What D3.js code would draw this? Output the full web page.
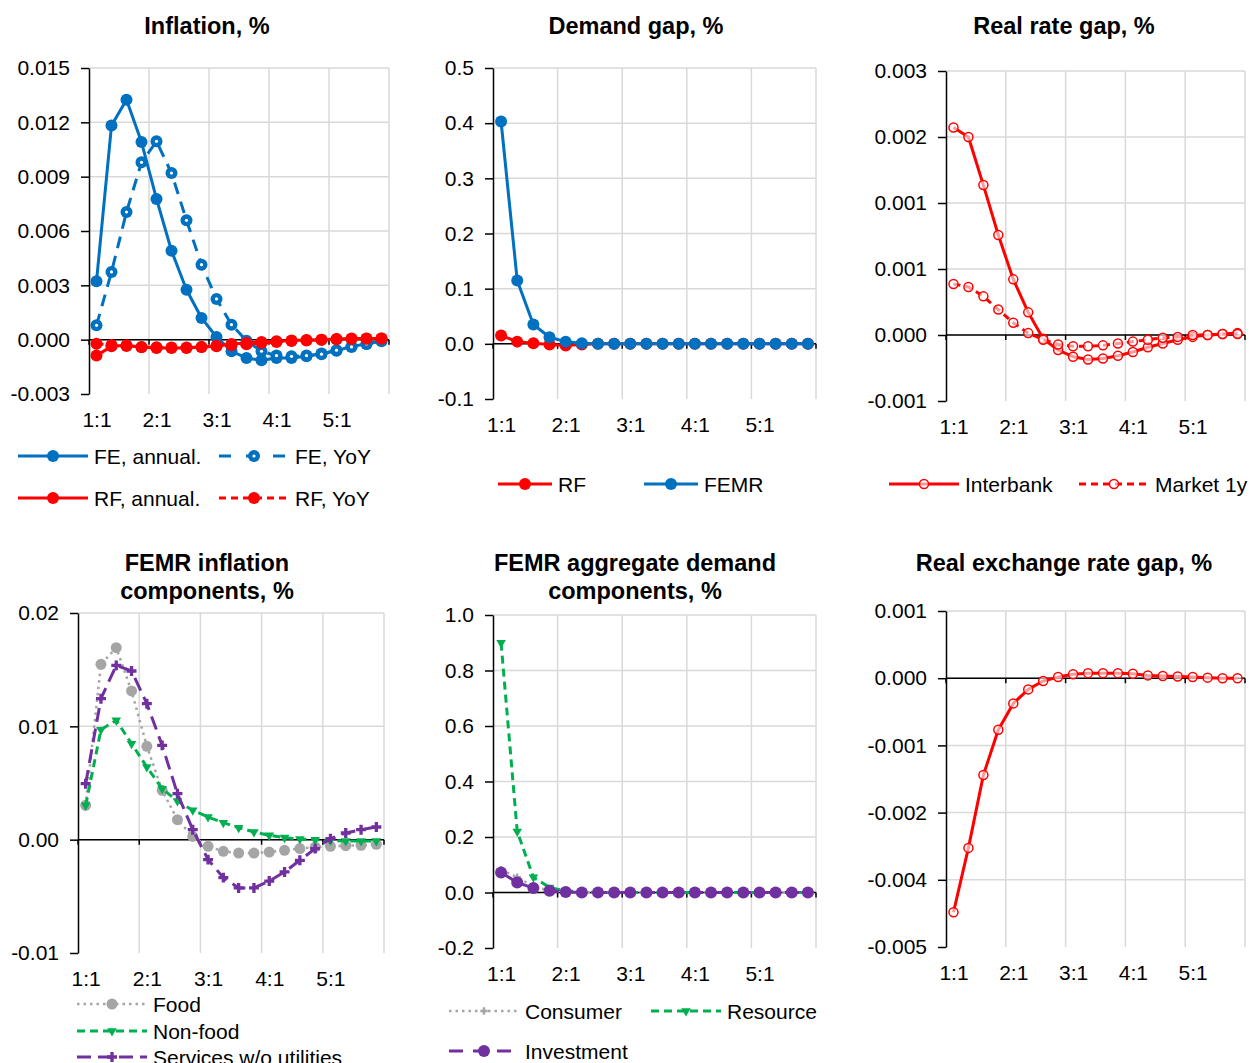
<!DOCTYPE html>
<html><head><meta charset="utf-8">
<script src="https://cdn.jsdelivr.net/npm/d3@7"></script>
<style>
body{margin:0;background:#fff}
svg{display:block}
text{font-family:"Liberation Sans",Arial,sans-serif;fill:#000}
</style>
</head><body>
<svg id="c" width="1256" height="1063"></svg>
<script>
// ---------- DATA ----------
const quarters = ["1:1","1:2","1:3","1:4","2:1","2:2","2:3","2:4","3:1","3:2","3:3","3:4","4:1","4:2","4:3","4:4","5:1","5:2","5:3","5:4"];

// Inflation, %
const inflTicks = [-0.003, 0, 0.003, 0.006, 0.009, 0.012, 0.015];
const inflTickLabels = ["-0.003","0.000","0.003","0.006","0.009","0.012","0.015"];
const feAnnual = [0.00322,0.01182,0.01325,0.01091,0.00777,0.00491,0.00276,0.00120,0.00015,-0.00064,-0.00101,-0.00114,-0.00101,-0.00101,-0.00092,-0.00077,-0.00061,-0.00037,-0.00024,-0.00009];
const feYoY = [0.00079,0.00374,0.00705,0.00979,0.01095,0.00920,0.00659,0.00414,0.00225,0.00083,-0.00006,-0.00064,-0.00088,-0.00092,-0.00088,-0.00080,-0.00058,-0.00040,-0.00024,-0.00005];
const rfAnnual = [-0.00088,-0.00037,-0.00031,-0.00042,-0.00046,-0.00046,-0.00046,-0.00040,-0.00033,-0.00024,-0.00018,-0.00013,-0.00009,-0.00004,-0.00002,0.00000,0.00004,0.00006,0.00006,0.00007];
const rfYoY = [-0.00022,-0.00030,-0.00035,-0.00040,-0.00042,-0.00043,-0.00043,-0.00041,-0.00037,-0.00031,-0.00025,-0.00019,-0.00013,-0.00008,-0.00004,-0.00001,0.00002,0.00004,0.00005,0.00006];

// Demand gap, %
const demandTicks = [-0.1, 0, 0.1, 0.2, 0.3, 0.4, 0.5];
const demandTickLabels = ["-0.1","0.0","0.1","0.2","0.3","0.4","0.5"];
const demandRF = [0.015,0.004,0.001,-0.001,-0.003,-0.001,0,0,0,0,0,0,0,0,0,0,0,0,0,0];
const demandFEMR = [0.403,0.115,0.035,0.012,0.004,0.001,0,0,0,0,0,0,0,0,0,0,0,0,0,0];

// Real rate gap, %
const rateTicks = [-0.0007, 0, 0.0007, 0.0014, 0.0021, 0.0028];
const rateTickLabels = ["-0.001","0.000","0.001","0.001","0.002","0.003"];
const rateInterbank = [0.00220,0.00210,0.00159,0.00106,0.00059,0.00024,-0.00004,-0.00016,-0.00023,-0.00026,-0.00025,-0.00022,-0.00018,-0.00013,-0.00009,-0.00005,-0.00002,0.00000,0.00001,0.00002];
const rateMarket1y = [0.00054,0.00051,0.00041,0.00027,0.00013,0.00002,-0.00005,-0.00010,-0.00012,-0.00012,-0.00011,-0.00009,-0.00007,-0.00005,-0.00003,-0.00002,0.00000,0.00000,0.00001,0.00001];

// FEMR inflation components, %
const compTicks = [-0.01, 0, 0.01, 0.02];
const compTickLabels = ["-0.01","0.00","0.01","0.02"];
const compFood = [0.00303,0.01547,0.01694,0.01312,0.00824,0.00435,0.00176,0.00029,-0.00059,-0.00103,-0.00118,-0.00118,-0.00109,-0.00094,-0.00079,-0.00065,-0.00059,-0.00053,-0.00050,-0.00041];
const compNonFood = [0.00303,0.00970,0.01053,0.00847,0.00641,0.00450,0.00341,0.00259,0.00200,0.00150,0.00106,0.00068,0.00038,0.00018,0.00006,0.00000,-0.00006,-0.00012,-0.00012,-0.00012];
const compServices = [0.00494,0.01244,0.01538,0.01488,0.01200,0.00832,0.00406,0.00088,-0.00176,-0.00335,-0.00426,-0.00426,-0.00365,-0.00285,-0.00182,-0.00079,0.00009,0.00059,0.00088,0.00112];

// FEMR aggregate demand components, %
const adTicks = [-0.2, 0, 0.2, 0.4, 0.6, 0.8, 1.0];
const adTickLabels = ["-0.2","0.0","0.2","0.4","0.6","0.8","1.0"];
const adConsumer = [0.082,0.055,0.022,0.007,0.002,0,0,0,0,0,0,0,0,0,0,0,0,0,0,0];
const adResource = [0.900,0.220,0.055,0.018,0.006,0.002,0,0,0,0,0,0,0,0,0,0,0,0,0,0];
const adInvestment = [0.072,0.036,0.016,0.006,0.002,0,0,0,0,0,0,0,0,0,0,0,0,0,0,0];

// Real exchange rate gap, %
const rerTicks = [-0.0048, -0.0036, -0.0024, -0.0012, 0, 0.0012];
const rerTickLabels = ["-0.005","-0.004","-0.002","-0.001","0.000","0.001"];
const rerGap = [-0.00418,-0.00303,-0.00173,-0.00092,-0.00045,-0.00020,-0.00005,0.00002,0.00007,0.00009,0.00009,0.00009,0.00008,0.00005,0.00004,0.00003,0.00002,0.00001,0.00000,0.00000];

// ---------- DRAW ----------
const svg = d3.select("#c");
const BLUE = "#0070C0", RED = "#FF0000", GRAY = "#A5A5A5", GREEN = "#00B050", PURPLE = "#7030A0";
const GRID = "#D9D9D9";

function drawMarker(g, kind, cx, cy, color) {
  if (kind === "dot") {
    g.append("circle").attr("cx", cx).attr("cy", cy).attr("r", 6).attr("fill", color);
  } else if (kind === "ring") {
    g.append("circle").attr("cx", cx).attr("cy", cy).attr("r", 6).attr("fill", color);
    g.append("circle").attr("cx", cx).attr("cy", cy).attr("r", 1.6).attr("fill", "#fff");
  } else if (kind === "open") {
    g.append("circle").attr("cx", cx).attr("cy", cy).attr("r", 4.5).attr("fill", "#fff").attr("fill-opacity", 0.6)
      .attr("stroke", color).attr("stroke-width", 1.5);
  } else if (kind === "gdot") {
    g.append("circle").attr("cx", cx).attr("cy", cy).attr("r", 5.5).attr("fill", color);
  } else if (kind === "small") {
    g.append("path").attr("d", d3.symbol().type(d3.symbolTriangle).size(40)())
      .attr("transform", `translate(${cx},${cy}) rotate(180)`).attr("fill", color);
  } else if (kind === "cross") {
    g.append("path").attr("d", d3.symbol().type(d3.symbolCross).size(55)())
      .attr("transform", `translate(${cx},${cy})`).attr("fill", color);
  } else if (kind === "plus") {
    g.append("path").attr("d", d3.symbol().type(d3.symbolCross).size(30)())
      .attr("transform", `translate(${cx},${cy})`).attr("fill", color);
  }
}

function panel(cfg) {
  const g = svg.append("g");
  const x = d3.scalePoint().domain(d3.range(quarters.length)).range([cfg.x0, cfg.x1]).padding(0.5);
  const step = x.step();
  const y = d3.scaleLinear().domain([d3.min(cfg.ticks), d3.max(cfg.ticks)]).range([cfg.yBot, cfg.yTop]);
  cfg.ticks.forEach(t => {
    if (t === d3.min(cfg.ticks)) return;
    g.append("line").attr("x1", cfg.x0).attr("x2", cfg.x1).attr("y1", y(t)).attr("y2", y(t))
      .attr("stroke", GRID).attr("stroke-width", 1.5);
  });
  for (let k = 1; k <= 5; k++) {
    const xv = cfg.x0 + k * 4 * step;
    g.append("line").attr("x1", xv).attr("x2", xv).attr("y1", cfg.yTop).attr("y2", cfg.yBot)
      .attr("stroke", GRID).attr("stroke-width", 1.5);
  }
  const ya = g.append("g").attr("transform", `translate(${cfg.x0},0)`)
    .call(d3.axisLeft(y).tickValues(cfg.ticks).tickFormat((d, i) => cfg.labels[i])
      .tickSize(8).tickSizeOuter(0).tickPadding(11));
  ya.select(".domain").attr("stroke", "#000").attr("stroke-width", 1.5);
  ya.selectAll(".tick line").attr("stroke", "#000").attr("stroke-width", 1.5);
  ya.selectAll("text").attr("font-size", 21).attr("font-family", "'Liberation Sans', Arial, sans-serif");
  const xa = g.append("g").attr("transform", `translate(0,${cfg.yBot})`)
    .call(d3.axisBottom(x).tickValues(d3.range(0, quarters.length, 4)).tickFormat(i => quarters[i])
      .tickSize(0).tickPadding(18));
  xa.select(".domain").remove();
  xa.selectAll("text").attr("font-size", 21).attr("font-family", "'Liberation Sans', Arial, sans-serif");
  const y0 = y(0);
  g.append("line").attr("x1", cfg.x0).attr("x2", cfg.x1).attr("y1", y0).attr("y2", y0)
    .attr("stroke", "#000").attr("stroke-width", 1.5);
  for (let k = 0; k <= 5; k++) {
    const xv = cfg.x0 + k * 4 * step;
    g.append("line").attr("x1", xv).attr("x2", xv).attr("y1", y0).attr("y2", y0 + 5)
      .attr("stroke", "#000").attr("stroke-width", 1.5);
  }
  const line = d3.line().x((d, i) => x(i)).y(d => y(d));
  cfg.series.forEach(s => {
    const sg = g.append("g");
    sg.append("path").attr("d", line(s.values)).attr("fill", "none").attr("stroke", s.color)
      .attr("stroke-width", s.width || 3).attr("stroke-dasharray", s.dash || null)
      .attr("stroke-linejoin", "round").attr("stroke-linecap", s.cap || "butt");
    s.values.forEach((v, i) => drawMarker(sg, s.marker, x(i), y(v), s.markerColor || s.color));
  });
  cfg.title.forEach((t, i) => {
    svg.append("text").attr("x", cfg.titleX).attr("y", cfg.titleY + i * 28).attr("text-anchor", "middle")
      .attr("dominant-baseline", "central").attr("font-size", 23.5).attr("font-weight", "bold").text(t);
  });
  cfg.legend.forEach(l => {
    const s = cfg.series[l.s];
    const len = l.len || 70;
    const lg = svg.append("g");
    lg.append("line").attr("x1", l.x).attr("x2", l.x + len).attr("y1", l.y).attr("y2", l.y)
      .attr("stroke", s.color).attr("stroke-width", s.width || 3).attr("stroke-dasharray", s.legendDash || s.dash || null)
      .attr("stroke-linecap", s.cap || "butt");
    drawMarker(lg, s.marker, l.x + len / 2, l.y, s.markerColor || s.color);
    lg.append("text").attr("x", l.x + len + 6).attr("y", l.y).attr("dominant-baseline", "central")
      .attr("font-size", 21).text(s.name);
  });
}

panel({
  x0: 89, x1: 389, yTop: 68, yBot: 394, ticks: inflTicks, labels: inflTickLabels,
  title: ["Inflation, %"], titleX: 207, titleY: 26,
  series: [
    {name: "FE, annual.", values: feAnnual, color: BLUE, marker: "dot"},
    {name: "FE, YoY", values: feYoY, color: BLUE, marker: "ring", dash: "12,8", legendDash: "12,15"},
    {name: "RF, annual.", values: rfAnnual, color: RED, marker: "dot"},
    {name: "RF, YoY", values: rfYoY, color: RED, marker: "dot", dash: "7,5"}
  ],
  legend: [{s: 0, x: 18, y: 456}, {s: 1, x: 219, y: 456}, {s: 2, x: 18, y: 498}, {s: 3, x: 219, y: 498}]
});

panel({
  x0: 493, x1: 816, yTop: 68, yBot: 399, ticks: demandTicks, labels: demandTickLabels,
  title: ["Demand gap, %"], titleX: 636, titleY: 26,
  series: [
    {name: "RF", values: demandRF, color: RED, marker: "dot"},
    {name: "FEMR", values: demandFEMR, color: BLUE, marker: "dot"}
  ],
  legend: [{s: 0, x: 498, y: 484, len: 54}, {s: 1, x: 644, y: 484, len: 54}]
});

panel({
  x0: 946, x1: 1245, yTop: 71, yBot: 401, ticks: rateTicks, labels: rateTickLabels,
  title: ["Real rate gap, %"], titleX: 1064, titleY: 26,
  series: [
    {name: "Interbank", values: rateInterbank, color: RED, marker: "open"},
    {name: "Market 1y", values: rateMarket1y, color: RED, marker: "open", dash: "7,5"}
  ],
  legend: [{s: 0, x: 889, y: 484}, {s: 1, x: 1079, y: 484}]
});

panel({
  x0: 78, x1: 384, yTop: 613, yBot: 953, ticks: compTicks, labels: compTickLabels,
  title: ["FEMR inflation", "components, %"], titleX: 207, titleY: 563,
  series: [
    {name: "Food", values: compFood, color: GRAY, marker: "gdot", dash: "2.5,4", width: 2.5},
    {name: "Non-food", values: compNonFood, color: GREEN, marker: "small", dash: "8,5"},
    {name: "Services w/o utilities", values: compServices, color: PURPLE, marker: "cross", dash: "14,7"}
  ],
  legend: [{s: 0, x: 77, y: 1004}, {s: 1, x: 77, y: 1031}, {s: 2, x: 77, y: 1057}]
});

panel({
  x0: 493, x1: 816, yTop: 615, yBot: 948, ticks: adTicks, labels: adTickLabels,
  title: ["FEMR aggregate demand", "components, %"], titleX: 635, titleY: 563,
  series: [
    {name: "Consumer", values: adConsumer, color: GRAY, marker: "plus", dash: "2.5,4", width: 2.5},
    {name: "Resource", values: adResource, color: GREEN, marker: "small", dash: "8,5"},
    {name: "Investment", values: adInvestment, color: PURPLE, marker: "dot", dash: "14,10"}
  ],
  legend: [{s: 0, x: 449, y: 1011}, {s: 1, x: 651, y: 1011}, {s: 2, x: 449, y: 1051}]
});

panel({
  x0: 946, x1: 1245, yTop: 611, yBot: 947, ticks: rerTicks, labels: rerTickLabels,
  title: ["Real exchange rate gap, %"], titleX: 1064, titleY: 563,
  series: [
    {name: "Real exchange rate gap", values: rerGap, color: RED, marker: "open"}
  ],
  legend: []
});
</script>
</body></html>
